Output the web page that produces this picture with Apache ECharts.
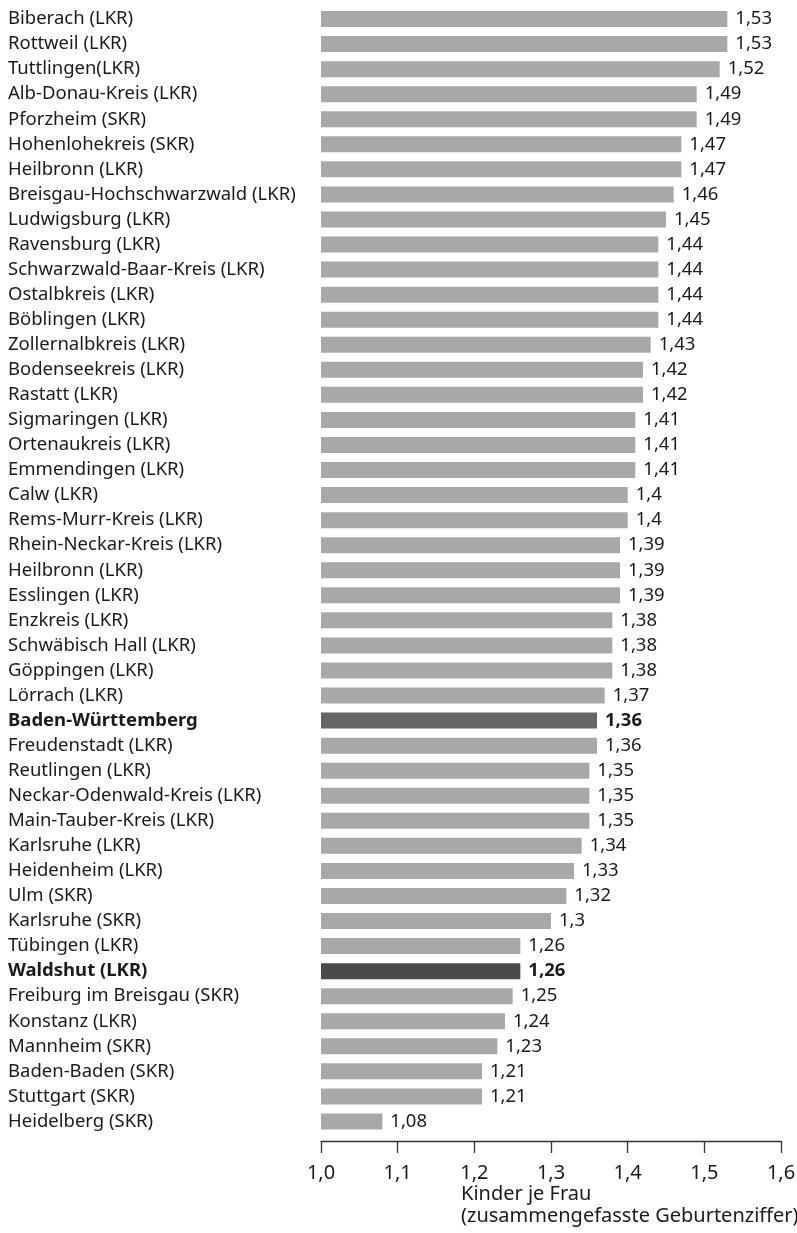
<!DOCTYPE html>
<html>
<head>
<meta charset="utf-8">
<script src="https://cdn.jsdelivr.net/npm/echarts@6/dist/echarts.min.js"></script>
<style>
  html, body { margin: 0; padding: 0; background: #fff; }
  #container { width: 797px; height: 1233px; }
</style>
</head>
<body>
<div id="container"></div>
<script>
// Kreise, sorted as in the source
let regions = [
    'Biberach (LKR)', 'Rottweil (LKR)', 'Tuttlingen(LKR)', 'Alb-Donau-Kreis (LKR)',
    'Pforzheim (SKR)', 'Hohenlohekreis (SKR)', 'Heilbronn (LKR)',
    'Breisgau-Hochschwarzwald (LKR)', 'Ludwigsburg (LKR)', 'Ravensburg (LKR)',
    'Schwarzwald-Baar-Kreis (LKR)', 'Ostalbkreis (LKR)', 'Böblingen (LKR)',
    'Zollernalbkreis (LKR)', 'Bodenseekreis (LKR)', 'Rastatt (LKR)',
    'Sigmaringen (LKR)', 'Ortenaukreis (LKR)', 'Emmendingen (LKR)', 'Calw (LKR)',
    'Rems-Murr-Kreis (LKR)', 'Rhein-Neckar-Kreis (LKR)', 'Heilbronn (LKR)',
    'Esslingen (LKR)', 'Enzkreis (LKR)', 'Schwäbisch Hall (LKR)', 'Göppingen (LKR)',
    'Lörrach (LKR)', 'Baden-Württemberg', 'Freudenstadt (LKR)', 'Reutlingen (LKR)',
    'Neckar-Odenwald-Kreis (LKR)', 'Main-Tauber-Kreis (LKR)', 'Karlsruhe (LKR)',
    'Heidenheim (LKR)', 'Ulm (SKR)', 'Karlsruhe (SKR)', 'Tübingen (LKR)',
    'Waldshut (LKR)', 'Freiburg im Breisgau (SKR)', 'Konstanz (LKR)',
    'Mannheim (SKR)', 'Baden-Baden (SKR)', 'Stuttgart (SKR)', 'Heidelberg (SKR)'
];

let births = [
    1.53, 1.53, 1.52, 1.49, 1.49, 1.47, 1.47, 1.46, 1.45, 1.44, 1.44, 1.44, 1.44,
    1.43, 1.42, 1.42, 1.41, 1.41, 1.41, 1.4, 1.4, 1.39, 1.39, 1.39, 1.38, 1.38,
    1.38, 1.37, 1.36, 1.36, 1.35, 1.35, 1.35, 1.34, 1.33, 1.32, 1.3, 1.26, 1.26,
    1.25, 1.24, 1.23, 1.21, 1.21, 1.08
];

// highlighted rows and their bar colours
let highlight = { 'Baden-Württemberg': '#666666', 'Waldshut (LKR)': '#4a4a4c' };

let axisMin = 1.0;
let axisMax = 1.6;
let axisStep = 0.1;

let axisName = ['Kinder je Frau', '(zusammengefasste Geburtenziffer)'];

const FONT = '"Noto Sans", "Open Sans", sans-serif';
const comma = (v) => String(v).replace('.', ',');

let seriesData = births.map((v, i) => {
    let hl = highlight[regions[i]];
    let item = { value: v, itemStyle: { color: hl || '#a8a8aa' } };
    if (hl) {
        item.label = { fontWeight: 'bold' };
    }
    return item;
});

let dom = document.getElementById('container');
let chart = echarts.init(dom, null, { renderer: 'canvas' });

chart.setOption({
    animation: false,
    backgroundColor: '#ffffff',
    textStyle: { fontFamily: FONT },
    grid: {
        left: 321, right: 16, top: 6.5, bottom: 99,
        containLabel: false,
        outerBoundsMode: 'none'
    },
    xAxis: {
        type: 'value',
        min: axisMin,
        max: axisMax,
        interval: axisStep,
        offset: 7,
        axisLine: { show: true, lineStyle: { color: '#333333', width: 1.3 } },
        axisTick: { show: true, length: 12, lineStyle: { color: '#333333', width: 1.3 } },
        splitLine: { show: false },
        axisLabel: {
            margin: 22,
            fontSize: 20,
            color: '#1a1a1a',
            fontFamily: FONT,
            hideOverlap: false,
            formatter: (v) => comma(v.toFixed(1))
        }
    },
    yAxis: {
        type: 'category',
        inverse: true,
        data: regions,
        axisLine: { show: false },
        axisTick: { show: false },
        axisLabel: {
            align: 'left',
            margin: 313,
            fontSize: 18.5,
            color: '#1a1a1a',
            fontFamily: FONT,
            formatter: (name) => highlight[name] ? '{b|' + name + '}' : name,
            rich: {
                b: { fontWeight: 'bold', fontSize: 18.5, color: '#1a1a1a', fontFamily: FONT }
            }
        }
    },
    series: [{
        type: 'bar',
        data: seriesData,
        barWidth: 16,
        label: {
            show: true,
            position: 'right',
            distance: 8,
            fontSize: 18.5,
            color: '#1a1a1a',
            fontFamily: FONT,
            formatter: (p) => comma(p.value)
        }
    }],
    graphic: [{
        type: 'text',
        left: 461,
        top: 1183,
        style: {
            text: axisName.join('\n'),
            fontSize: 20,
            lineHeight: 22,
            fill: '#1a1a1a',
            fontFamily: FONT
        }
    }]
});
</script>
</body>
</html>
